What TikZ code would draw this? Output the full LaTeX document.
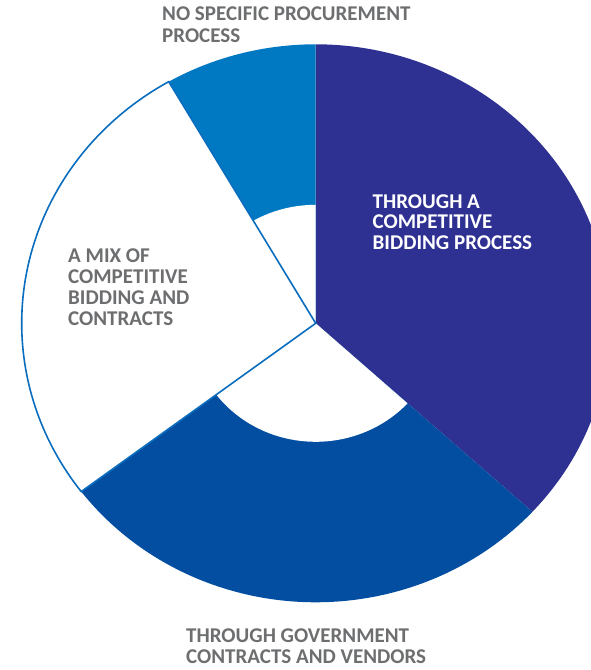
\documentclass[tikz,border=0pt]{standalone}
\usepackage{fontspec}
\setmainfont{Carlito}
\definecolor{slicepurple}{HTML}{2E3192}
\definecolor{slicedark}{HTML}{034EA1}
\definecolor{slicecyan}{HTML}{0179C2}
\definecolor{outlineblue}{HTML}{0A6DBE}
\definecolor{labelgray}{HTML}{6D6E70}
\tikzset{
  lbl/.style={anchor=base west, inner sep=0pt, align=left, font=\bfseries\fontsize{21}{21}\selectfont, text=labelgray},
  lblwhite/.style={lbl, text=white},
}
\begin{document}
\begin{tikzpicture}[x=1pt,y=1pt]
\useasboundingbox (0,0) rectangle (591,670);
\coordinate (C) at (315.7,346.7);
% purple slice
\fill[slicepurple] (C) -- ++(-42.5:294pt and 279pt) arc[start angle=-42.5, end angle=90, x radius=294pt, y radius=279pt] -- cycle;
% cyan slice
\fill[slicecyan] (C) -- ++(90:294pt and 279pt) arc[start angle=90, end angle=120, x radius=294pt, y radius=279pt] -- cycle;
% dark blue slice
\fill[slicedark] (C) -- ++(217.1:294pt and 279pt) arc[start angle=217.1, end angle=317.5, x radius=294pt, y radius=279pt] -- cycle;
% inner holes
\fill[white] (C) -- ++(90:124.5pt and 118.5pt) arc[start angle=90, end angle=120, x radius=124.5pt, y radius=118.5pt] -- cycle;
\fill[white] (C) -- ++(217.1:124.5pt and 118.5pt) arc[start angle=217.1, end angle=317.5, x radius=124.5pt, y radius=118.5pt] -- cycle;
% white slice with outline
\filldraw[fill=white, draw=outlineblue, line width=1.6pt, line join=miter] (C) -- ++(120:294pt and 279pt) arc[start angle=120, end angle=217.1, x radius=294pt, y radius=279pt] -- cycle;
% labels (anchor = baseline of last line)
\node[lbl] (none) at (162,627.3) {NO SPECIFIC PROCUREMENT\\[1pt]PROCESS};
\node[lblwhite] (bid) at (372.5,420.5) {THROUGH A\\[-0.5pt]COMPETITIVE\\[-0.5pt]BIDDING PROCESS};
\node[lbl] (mix) at (68,344) {A MIX OF\\[0.3pt]COMPETITIVE\\[0.3pt]BIDDING AND\\[0.3pt]CONTRACTS};
\node[lbl] (gov) at (186,6.7) {THROUGH GOVERNMENT\\[-0.3pt]CONTRACTS AND VENDORS};
\end{tikzpicture}
\end{document}
